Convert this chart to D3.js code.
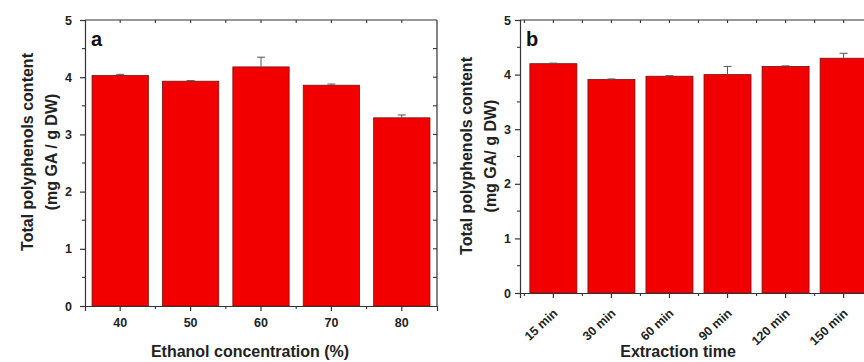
<!DOCTYPE html>
<html>
<head>
<meta charset="utf-8">
<script src="https://cdn.jsdelivr.net/npm/d3@7"></script>
<style>
  body { margin: 0; background: #fff; }
  svg { display: block; font-family: "Liberation Sans", Arial, sans-serif; font-weight: bold; }
</style>
</head>
<body>
<script>
// panel a: ethanol concentration
var ethanolLabels = ["40", "50", "60", "70", "80"];
var ethanolValues = [4.03, 3.93, 4.18, 3.86, 3.29];
var ethanolErrors = [0.02, 0.01, 0.17, 0.02, 0.05];

// panel b: extraction time
var timeLabels = ["15 min", "30 min", "60 min", "90 min", "120 min", "150 min"];
var timeValues = [4.20, 3.91, 3.97, 4.00, 4.15, 4.30];
var timeErrors = [0.01, 0.01, 0.01, 0.15, 0.01, 0.09];

var yTicks = [0, 1, 2, 3, 4, 5];

var svg = d3.select("body").append("svg")
    .attr("width", 864).attr("height", 362);

// draws one panel
function drawpanel(opt)
{
  var g = svg.append("g");
  var x = d3.scaleBand()
      .domain(opt.labels)
      .range([opt.left, opt.right])
      .paddingInner(opt.pin)
      .paddingOuter(opt.pout);
  var y = d3.scaleLinear().domain([0, 5]).range([opt.bottom, opt.top]);

  // bars
  g.selectAll("rect.bar").data(opt.values).enter().append("rect")
      .attr("class", "bar")
      .attr("x", function(d, i) { return x(opt.labels[i]); })
      .attr("width", x.bandwidth())
      .attr("y", function(d) { return y(d); })
      .attr("height", function(d) { return opt.bottom - y(d); })
      .style("fill", "#f20000")
      .style("stroke", "#7a1010")
      .style("stroke-width", 0.8);

  // error bars (upper half only shows)
  opt.values.forEach(function(v, i)
  {
    var cx = x(opt.labels[i]) + x.bandwidth() / 2;
    g.append("line").attr("x1", cx).attr("x2", cx)
        .attr("y1", y(v)).attr("y2", y(v + opt.errors[i]))
        .style("stroke", "#555").style("stroke-width", 1);
    g.append("line").attr("x1", cx - 4).attr("x2", cx + 4)
        .attr("y1", y(v + opt.errors[i])).attr("y2", y(v + opt.errors[i]))
        .style("stroke", "#555").style("stroke-width", 1);
  });

  // half-step positions for minor ticks
  var step = x.step();
  var xmajor = opt.labels.map(function(l) { return x(l) + x.bandwidth() / 2; });
  var xminor = xmajor.map(function(c) { return c + step / 2; }).concat([xmajor[0] - step / 2])
      .filter(function(c) { return c > opt.left && c < opt.right; });

  // axes
  var yaxis = d3.axisLeft(y).tickValues(yTicks).tickSize(5).tickPadding(opt.ypad).tickFormat(d3.format("d"));
  var ya = g.append("g").attr("transform", "translate(" + opt.left + ",0)").call(yaxis);
  ya.selectAll("text").style("font-size", "12.5px").style("font-weight", "bold").style("fill", "#222");

  var xaxis = d3.axisBottom(x).tickSize(5).tickPadding(7);
  var xa = g.append("g").attr("transform", "translate(0," + opt.bottom + ")").call(xaxis);
  xa.selectAll("text").style("font-size", "12.5px").style("font-weight", "bold").style("fill", "#222");
  if (opt.rotate)
  {
    xa.selectAll("text")
        .attr("text-anchor", "end")
        .attr("x", 0).attr("y", 0)
        .attr("dy", "0.35em")
        .attr("transform", "translate(2,18) rotate(-43)");
  }

  [ya, xa].forEach(function(a)
  {
    a.select(".domain").style("stroke", "#333").style("stroke-width", 1.2);
    a.selectAll(".tick line").style("stroke", "#333").style("stroke-width", 1.2);
  });

  // top and right frame lines
  g.append("line").attr("x1", opt.left).attr("x2", opt.right)
      .attr("y1", opt.top).attr("y2", opt.top)
      .style("stroke", "#333").style("stroke-width", 1.2);
  g.append("line").attr("x1", opt.right).attr("x2", opt.right)
      .attr("y1", opt.top).attr("y2", opt.bottom)
      .style("stroke", "#333").style("stroke-width", 1.2);

  // minor / mirror ticks
  var tk = g.append("g").style("stroke", "#333").style("stroke-width", 1.1);
  xminor.forEach(function(c)
  {
    tk.append("line").attr("x1", c).attr("x2", c).attr("y1", opt.bottom).attr("y2", opt.bottom + 3);
  });
  xmajor.concat(xminor).forEach(function(c)
  {
    tk.append("line").attr("x1", c).attr("x2", c).attr("y1", opt.top).attr("y2", opt.top + 3);
  });
  d3.range(0.5, 5, 1).forEach(function(v)
  {
    tk.append("line").attr("x1", opt.left).attr("x2", opt.left - 3).attr("y1", y(v)).attr("y2", y(v));
  });
  d3.range(0.5, 5, 0.5).forEach(function(v)
  {
    tk.append("line").attr("x1", opt.right).attr("x2", opt.right - 4).attr("y1", y(v)).attr("y2", y(v));
  });

  // panel letter
  g.append("text").attr("x", opt.left + 6).attr("y", opt.top + 26)
      .style("font-size", "20px").style("fill", "#111").text(opt.letter);

  // y title
  var yt = g.append("text")
      .attr("transform", "translate(" + opt.ytitlex + "," + opt.ytitley + ") rotate(-90)")
      .attr("text-anchor", "middle")
      .style("font-size", "16px").style("fill", "#222");
  yt.append("tspan").attr("x", 0).attr("dy", 0).text("Total polyphenols content");
  yt.append("tspan").attr("x", 0).attr("dy", 24).text(opt.unit);

  // x title
  g.append("text").attr("x", opt.xtitlex).attr("y", 357)
      .attr("text-anchor", "middle")
      .style("font-size", "16px").style("fill", "#222").text(opt.xtitle);
}

drawpanel({
  labels: ethanolLabels, values: ethanolValues, errors: ethanolErrors,
  left: 85, right: 437, top: 20, bottom: 306, pin: 0.2, pout: 0.1, ypad: 8,
  letter: "a", unit: "(mg GA / g DW)", ytitlex: 33, ytitley: 152,
  xtitle: "Ethanol concentration (%)", xtitlex: 250, rotate: false
});

drawpanel({
  labels: timeLabels, values: timeValues, errors: timeErrors,
  left: 520, right: 877, top: 20, bottom: 293, pin: 0.19, pout: 0.17, ypad: 4,
  letter: "b", unit: "(mg GA/ g DW)", ytitlex: 472, ytitley: 156,
  xtitle: "Extraction time", xtitlex: 678, rotate: true
});
</script>
</body>
</html>
